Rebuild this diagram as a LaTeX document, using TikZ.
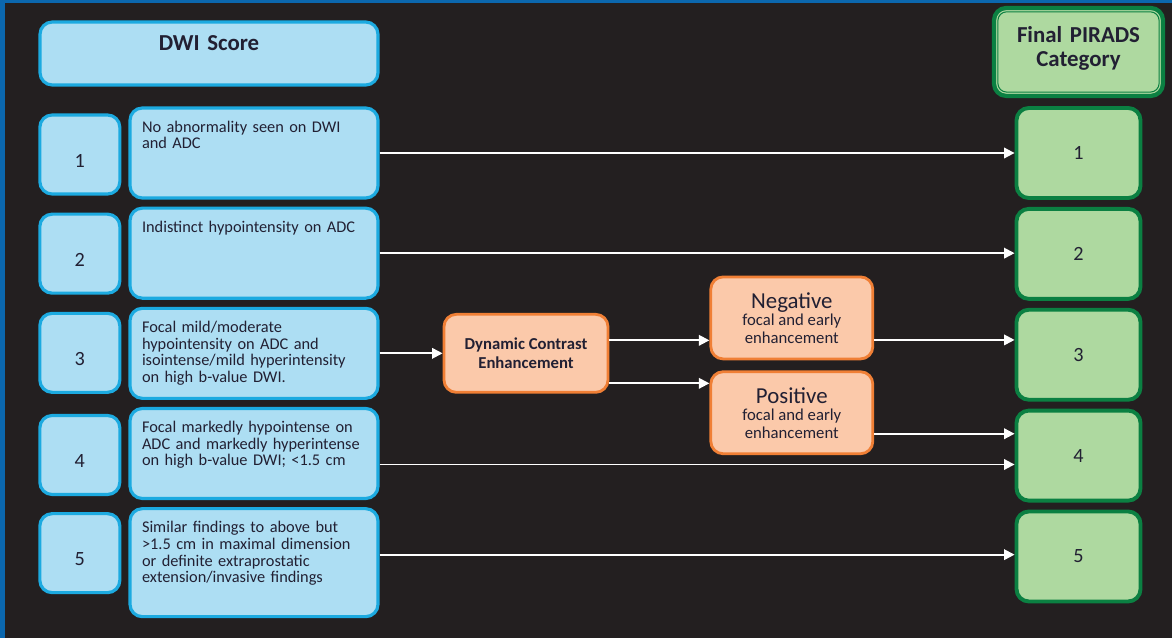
\documentclass[tikz,border=0pt]{standalone}
\usepackage{fontspec}
\setmainfont{Carlito}
\usepackage{tikz}
\usetikzlibrary{arrows.meta, positioning, calc}
\definecolor{bgdark}{RGB}{35,31,32}
\definecolor{frameblue}{RGB}{11,103,174}
\definecolor{dwifill}{RGB}{173,222,243}
\definecolor{dwiline}{RGB}{28,170,224}
\definecolor{pifill}{RGB}{174,217,160}
\definecolor{piline}{RGB}{11,128,66}
\definecolor{dcefill}{RGB}{251,201,170}
\definecolor{dceline}{RGB}{240,127,53}
\definecolor{ink}{RGB}{34,32,51}

\begin{document}
\begin{tikzpicture}[
  node distance=0.14cm,
  box/.style={draw=#1line, fill=#1fill, line width=1.8pt, rounded corners=7pt, text=ink},
  head/.style={box=dwi, minimum width=6.76cm, text width=6.2cm, align=center, inner ysep=0.1cm, text height=0.46cm, text depth=0.6cm, font=\fontsize{13}{15}\selectfont\bfseries},
  desc/.style={box=dwi, minimum width=4.96cm, text width=4.48cm, inner xsep=0.24cm, inner ysep=0.1cm, align=left, text height=0.38cm, text depth=#1, font=\fontsize{9.3}{9.5}\selectfont},
  desc/.default=1.22cm,
  num/.style={box=dwi, minimum width=1.6cm, minimum height=1.58cm, text height=0.5cm, text depth=0cm, font=\fontsize{11.5}{14}\selectfont},
  cat/.style={box=pi, line width=2.2pt, minimum width=2.48cm, minimum height=1.8cm, font=\fontsize{11.5}{14}\selectfont},
  finhead/.style={box=pi, line width=2.4pt, minimum width=3.38cm, text width=3.1cm, align=center, inner ysep=0.1cm, text height=0.6cm, text depth=0.96cm, font=\fontsize{13}{13.5}\selectfont\bfseries},
  sub/.style={box=dce, line width=1.6pt, minimum width=3.24cm, minimum height=1.64cm, align=center, font=\fontsize{9.5}{10}\selectfont},
  arr/.style={white, line width=1.1pt, -{Triangle[length=6pt, width=6pt]}},
]
\fill[bgdark] (0,0) rectangle (23.44,-12.76);
\fill[frameblue] (0,0) rectangle (0.1,-12.76);
\fill[frameblue] (0,0) rectangle (23.44,-0.06);

\node[head] (dwi) at (4.18,-1.07) {DWI Score};
\node[desc] (d1) at (5.08,-3.06) {No abnormality seen on DWI\\and ADC};
\node[desc, below=of d1] (d2) {Indistinct hypointensity on ADC};
\node[desc, below=of d2] (d3) {Focal mild/moderate\\hypointensity on ADC and\\isointense/mild hyperintensity\\on high b-value DWI.};
\node[desc, below=of d3] (d4) {Focal markedly hypointense on\\ADC and markedly hyperintense\\on high b-value DWI; <1.5 cm};
\node[desc=1.58cm, below=of d4] (d5) {Similar findings to above but\\>1.5 cm in maximal dimension\\or definite extraprostatic\\extension/invasive findings};

\node[num, anchor=north east] (n1) at ([shift={(-0.14cm,-0.14cm)}]d1.north west) {1};
\node[num, anchor=north east] (n2) at ([shift={(-0.14cm,-0.12cm)}]d2.north west) {2};
\node[num, anchor=north east] (n3) at ([shift={(-0.14cm,-0.1cm)}]d3.north west) {3};
\node[num, anchor=north east] (n4) at ([shift={(-0.14cm,-0.14cm)}]d4.north west) {4};
\node[num, anchor=north east] (n5) at ([shift={(-0.14cm,-0.1cm)}]d5.north west) {5};

\node[cat] (c1) at (21.57,-3.06) {1};
\node[cat, below=of c1] (c2) {2};
\node[cat, below=of c2] (c3) {3};
\node[cat, below=of c3] (c4) {4};
\node[cat, below=of c4] (c5) {5};
\node[finhead, above=0.16cm of c1] (fin) {Final PIRADS\\Category};
\draw[piline, line width=0.6pt, rounded corners=5pt] ([shift={(3.4pt,3.4pt)}]fin.south west) rectangle ([shift={(-3.4pt,-3.4pt)}]fin.north east);

\node[sub, minimum width=3.28cm, minimum height=1.56cm, font=\fontsize{9.5}{11}\selectfont\bfseries, right=1.26cm of d3] (dce) {Dynamic Contrast\\Enhancement};
\node[sub, above right=-0.14cm and 2.0cm of dce.east] (neg) {{\fontsize{13}{14}\selectfont Negative}\\focal and early\\enhancement};
\node[sub, below=0.2cm of neg] (pos) {{\fontsize{13}{14}\selectfont Positive}\\focal and early\\enhancement};

\draw[arr] (d1.east) -- (d1.east -| c1.west);
\draw[arr] (d2.east) -- (d2.east -| c2.west);
\draw[arr] (d3.east) -- (dce.west);
\draw[arr] ([yshift=0.26cm]dce.east) -- ([yshift=0.26cm]dce.east -| neg.west);
\draw[arr] ([yshift=-0.6cm]dce.east) -- ([yshift=-0.6cm]dce.east -| pos.west);
\draw[arr] ([yshift=-0.44cm]neg.east) -- ([yshift=-0.44cm]neg.east -| c3.west);
\draw[arr] ([yshift=-0.42cm]pos.east) -- ([yshift=-0.42cm]pos.east -| c4.west);
\draw[arr] ([yshift=-0.22cm]d4.east) -- ([yshift=-0.22cm]d4.east -| c4.west);
\draw[arr] ([yshift=0.16cm]d5.east) -- ([yshift=0.16cm]d5.east -| c5.west);
\end{tikzpicture}
\end{document}
